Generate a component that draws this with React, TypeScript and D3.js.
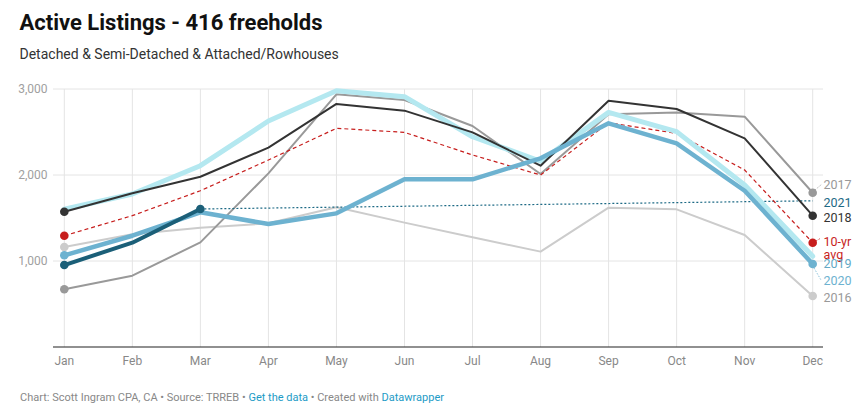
import React from "react";
import * as d3 from "d3";

const months = ["Jan", "Feb", "Mar", "Apr", "May", "Jun", "Jul", "Aug", "Sep", "Oct", "Nov", "Dec"];
const yTicks = [1000, 2000, 3000];

const s2016 = [1163, 1310, 1387, 1438, 1624, 1446, 1276, 1109, 1620, 1601, 1302, 593];
const s2017 = [671, 829, 1217, 2019, 2938, 2872, 2570, 2012, 2705, 2728, 2678, 1794];
const s2018 = [1573, 1787, 1980, 2318, 2826, 2748, 2496, 2108, 2864, 2767, 2426, 1527];
const s2019 = [1601, 1779, 2108, 2628, 2980, 2911, 2445, 2160, 2728, 2504, 1884, 1055];
const s2020 = [1066, 1294, 1566, 1430, 1554, 1950, 1950, 2194, 2601, 2368, 1817, 965];
const s2021 = [953, 1213, 1605, null, null, null, null, null, null, null, null, null];
const trend2021 = [null, null, 1605, null, null, null, null, null, null, null, null, 1700];
const avg10 = [1294, 1527, 1817, 2174, 2543, 2496, 2233, 2000, 2608, 2484, 2058, 1213];

type Series = {
  name: string;
  values: (number | null)[];
  color: string;
  width: number;
  dash?: string;
  dots: number[];
  label?: string[];
  labelColor?: string;
  labelY?: number;
};

const series: Series[] = [
  { name: "2016", values: s2016, color: "#cccccc", width: 2, dots: [0, 11], label: ["2016"], labelColor: "#999999", labelY: 298 },
  { name: "2017", values: s2017, color: "#999999", width: 2, dots: [0, 11], label: ["2017"], labelColor: "#999999", labelY: 185 },
  { name: "trend", values: trend2021, color: "#1d6a85", width: 1.2, dash: "2,2", dots: [], label: ["2021"], labelColor: "#1d6a85", labelY: 203 },
  { name: "avg", values: avg10, color: "#c71e1d", width: 1.2, dash: "4,3", dots: [0, 11], label: ["10-yr", "avg"], labelColor: "#c71e1d", labelY: 242 },
  { name: "2019", values: s2019, color: "#b4e8f0", width: 5, dots: [], label: ["2019"], labelColor: "#62a9c6", labelY: 264 },
  { name: "2018", values: s2018, color: "#333333", width: 2, dots: [0, 11], label: ["2018"], labelColor: "#333333", labelY: 218 },
  { name: "2020", values: s2020, color: "#6db2d0", width: 4.5, dots: [0, 11], label: ["2020"], labelColor: "#6db2d0", labelY: 281 },
  { name: "2021", values: s2021, color: "#1b5f78", width: 4, dots: [0, 2] },
];

export default function App() {
  const W = 860, H = 410;
  const x = d3.scalePoint<string>().domain(months).range([64.3, 812.7]);
  const y = d3.scaleLinear().domain([0, 3000]).range([347, 89]);
  const line = d3
    .line<number | null>()
    .defined((d) => d != null)
    .x((_, i) => x(months[i]) as number)
    .y((d) => y(d as number));
  const font = "Roboto, 'Noto Sans', sans-serif";

  return (
    <svg width={W} height={H} style={{ position: "absolute", left: 0, top: 0, background: "#fff" }} fontFamily={font}>
      <text x={19.5} y={29.5} fontSize={22} fontWeight={700} fill="#111">Active Listings - 416 freeholds</text>
      <text x={19.5} y={58.5} fontSize={14} fill="#333">Detached &amp; Semi-Detached &amp; Attached/Rowhouses</text>

      {yTicks.map((t) => (
        <g key={t}>
          <line x1={53} x2={823} y1={y(t)} y2={y(t)} stroke="#e4e4e4" strokeWidth={1} />
          <text x={47.5} y={y(t)} dy="0.35em" textAnchor="end" fontSize={12} fill="#a0a0a0">
            {d3.format(",")(t)}
          </text>
        </g>
      ))}
      {months.map((m) => (
        <g key={m}>
          <line x1={x(m)} x2={x(m)} y1={89} y2={347} stroke="#e4e4e4" strokeWidth={1} />
          <text x={x(m)} y={361} dy="0.35em" textAnchor="middle" fontSize={12} fill="#888">
            {m}
          </text>
        </g>
      ))}
      <line x1={53} x2={823} y1={347} y2={347} stroke="#222" strokeWidth={1.2} />

      {series.map((s) => {
        let d: string | null;
        if (s.name === "trend") {
          const pts = s.values
            .map((v, i) => (v == null ? null : [x(months[i]) as number, y(v)]))
            .filter((p) => p) as [number, number][];
          d = d3.line()(pts);
        } else {
          d = line(s.values);
        }
        return (
          <path
            key={s.name}
            d={d || ""}
            fill="none"
            stroke={s.color}
            strokeWidth={s.width}
            strokeDasharray={s.dash}
            strokeLinejoin="round"
            strokeLinecap={s.dash ? "butt" : "round"}
          />
        );
      })}

      {series.map((s) =>
        s.dots.map((i) => (
          <circle key={s.name + i} cx={x(months[i])} cy={y(s.values[i] as number)} r={4.3} fill={s.color} />
        ))
      )}

      <line x1={815} y1={190} x2={822} y2={184} stroke="#999" strokeWidth={0.8} strokeDasharray="1.5,1.5" />
      <line x1={816} y1={241} x2={821} y2={238} stroke="#c71e1d" strokeWidth={0.8} strokeDasharray="1.5,1.5" />
      <line x1={814} y1={268} x2={821} y2={280} stroke="#6db2d0" strokeWidth={0.8} strokeDasharray="1.5,1.5" />

      {series
        .filter((s) => s.label)
        .map((s) =>
          s.label!.map((t, k) => (
            <text
              key={s.name + k}
              x={823.5}
              y={(s.labelY as number) + k * 13}
              dy="0.35em"
              fontSize={12.5}
              fill={s.labelColor}
            >
              {t}
            </text>
          ))
        )}

      <text x={20} y={397} dy="0.35em" fontSize={11} fill="#888">
        <tspan>Chart: Scott Ingram CPA, CA • Source: TRREB • </tspan>
        <tspan fill="#1d9bc6">Get the data</tspan>
        <tspan> • Created with </tspan>
        <tspan fill="#1d9bc6">Datawrapper</tspan>
      </text>
    </svg>
  );
}
